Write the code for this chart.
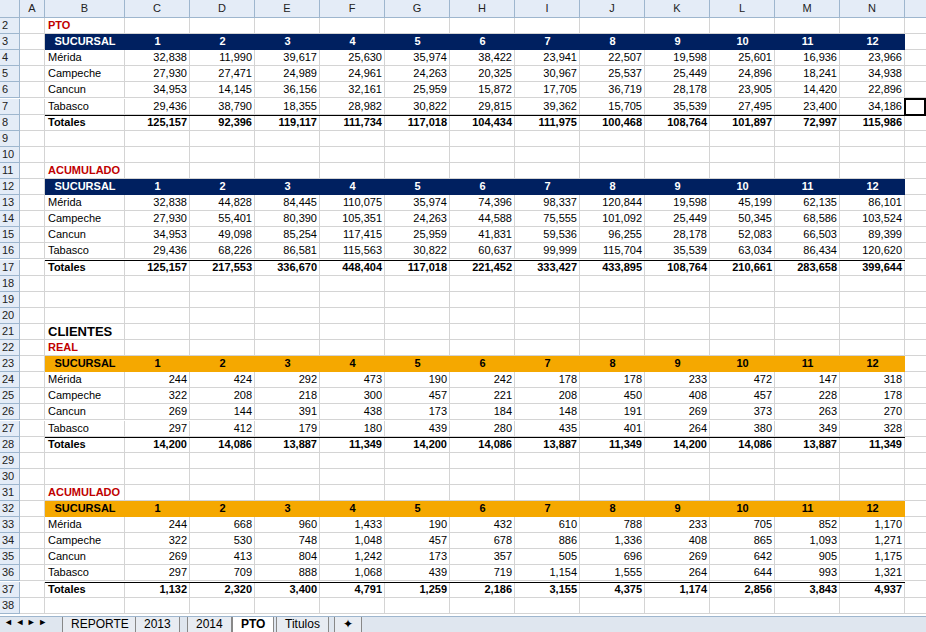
<!DOCTYPE html>
<html><head><meta charset="utf-8">
<script src="https://cdn.jsdelivr.net/npm/chart.js@4"></script>
<style>
body{margin:0;width:926px;height:632px;overflow:hidden;background:#fff;font-family:"Liberation Sans",Arial,sans-serif;font-size:11px;position:relative}
.c{position:absolute;box-sizing:border-box;border-right:1px solid #d4d4d4;border-bottom:1px solid #d4d4d4;white-space:nowrap;overflow:visible;padding:0 3px;line-height:15px}
.hd{background:#e4ecf7;color:#222;text-align:center;border-color:#9eb6ce}
.r{text-align:right}
.tabs{position:absolute;left:0;top:616px;width:926px;height:16px;background:#dfe6ef;border-top:1px solid #9eb6ce;font-size:12px}
.tab{position:absolute;top:0;height:15px;line-height:15px;padding:0 8px;border:1px solid #888;border-top:none;background:#e8ecf2}
</style></head><body>
<script>
const sucursales = ['Mérida', 'Campeche', 'Cancun', 'Tabasco'];
const meses = ['1','2','3','4','5','6','7','8','9','10','11','12'];
const ptoReal = [
  [32838,11990,39617,25630,35974,38422,23941,22507,19598,25601,16936,23966],
  [27930,27471,24989,24961,24263,20325,30967,25537,25449,24896,18241,34938],
  [34953,14145,36156,32161,25959,15872,17705,36719,28178,23905,14420,22896],
  [29436,38790,18355,28982,30822,29815,39362,15705,35539,27495,23400,34186]];
const ptoTotales = [125157,92396,119117,111734,117018,104434,111975,100468,108764,101897,72997,115986];
const ptoAcum = [
  [32838,44828,84445,110075,35974,74396,98337,120844,19598,45199,62135,86101],
  [27930,55401,80390,105351,24263,44588,75555,101092,25449,50345,68586,103524],
  [34953,49098,85254,117415,25959,41831,59536,96255,28178,52083,66503,89399],
  [29436,68226,86581,115563,30822,60637,99999,115704,35539,63034,86434,120620]];
const ptoAcumTot = [125157,217553,336670,448404,117018,221452,333427,433895,108764,210661,283658,399644];
const cliReal = [
  [244,424,292,473,190,242,178,178,233,472,147,318],
  [322,208,218,300,457,221,208,450,408,457,228,178],
  [269,144,391,438,173,184,148,191,269,373,263,270],
  [297,412,179,180,439,280,435,401,264,380,349,328]];
const cliTotales = [14200,14086,13887,11349,14200,14086,13887,11349,14200,14086,13887,11349];
const cliAcum = [
  [244,668,960,1433,190,432,610,788,233,705,852,1170],
  [322,530,748,1048,457,678,886,1336,408,865,1093,1271],
  [269,413,804,1242,173,357,505,696,269,642,905,1175],
  [297,709,888,1068,439,719,1154,1555,264,644,993,1321]];
const cliAcumTot = [1132,2320,3400,4791,1259,2186,3155,4375,1174,2856,3843,4937];

const colLetters = ['A','B','C','D','E','F','G','H','I','J','K','L','M','N',''];
const colW = [25,80,65,65,65,65,65,65,65,65,65,65,65,65,40];
const colX = []; let x = 20; colW.forEach(w => { colX.push(x); x += w; });
const rowH = 16.1, top0 = 18;
const rowY = r => top0 + (r - 2) * rowH;
const fmt = n => n.toLocaleString('en-US');

function cell(l, t, w, h, text, cls, style) {
  const d = document.createElement('div');
  d.className = 'c ' + (cls || '');
  Object.assign(d.style, {left: l + 'px', top: t + 'px', width: w + 'px', height: h + 'px'}, style || {});
  d.textContent = text;
  document.body.appendChild(d);
  return d;
}
// headers
cell(0, 0, 20, 18, '', 'hd');
colLetters.forEach((c, i) => cell(colX[i], 0, colW[i], 18, c, 'hd', {lineHeight: '17px'}));
for (let r = 2; r <= 38; r++) {
  cell(0, rowY(r), 20, rowH, r, 'hd', {textAlign: 'left', padding: '0 2px'});
  colW.forEach((w, i) => cell(colX[i], rowY(r), w, rowH, ''));
}
const txt = (r, ci, text, style) => cell(colX[ci], rowY(r), colW[ci], rowH, text, '', Object.assign({border: 'none'}, style));

function block(titleRow, title, rows, totals, color) {
  txt(titleRow, 1, title, {color: '#c00000', fontWeight: 'bold'});
  const h = titleRow + 1;
  const band = cell(colX[1], rowY(h), x - colX[1] - colW[14], rowH, '', '', {background: color, border: 'none'});
  txt(h, 1, 'SUCURSAL', {color: color === '#002060' ? '#fff' : '#000', fontWeight: 'bold', textAlign: 'center'});
  meses.forEach((m, i) => txt(h, i + 2, m, {color: color === '#002060' ? '#fff' : '#000', fontWeight: 'bold', textAlign: 'center'}));
  rows.forEach((vals, k) => {
    txt(h + 1 + k, 1, sucursales[k]);
    vals.forEach((v, i) => txt(h + 1 + k, i + 2, fmt(v), {textAlign: 'right'}));
  });
  const t = h + 5;
  txt(t, 1, 'Totales', {fontWeight: 'bold'});
  totals.forEach((v, i) => txt(t, i + 2, fmt(v), {textAlign: 'right', fontWeight: 'bold'}));
  cell(colX[1], rowY(t), x - colX[1] - colW[14], 1, '', '', {border: 'none', background: '#000', height: '1px'});
}
block(2, 'PTO', ptoReal, ptoTotales, '#002060');
block(11, 'ACUMULADO', ptoAcum, ptoAcumTot, '#002060');
txt(21, 1, 'CLIENTES', {fontWeight: 'bold', fontSize: '13px'});
block(22, 'REAL', cliReal, cliTotales, '#f5a800');
block(31, 'ACUMULADO', cliAcum, cliAcumTot, '#f5a800');
cell(colX[14] - 1, rowY(7) - 1, 22, rowH + 2, '', '', {border: '2px solid #000'});
</script>
<div class="tabs">
  <span style="position:absolute;left:4px;top:0;font-size:9px">◄ ◄ ► ►</span>
  <div class="tab" style="left:62px">REPORTE</div>
  <div class="tab" style="left:135px">2013</div>
  <div class="tab" style="left:187px">2014</div>
  <div class="tab" style="left:232px;background:#fff;font-weight:bold">PTO</div>
  <div class="tab" style="left:276px">Titulos</div>
  <div class="tab" style="left:334px">✦</div>
</div>
</body></html>
